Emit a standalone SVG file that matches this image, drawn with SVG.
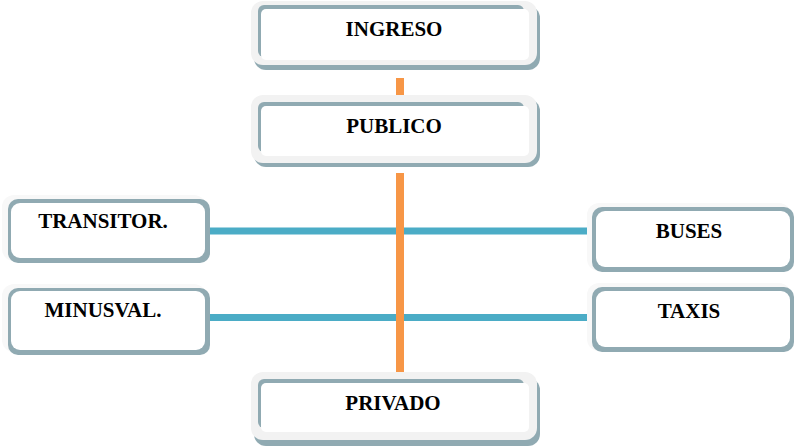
<svg xmlns="http://www.w3.org/2000/svg" width="794" height="447" viewBox="0 0 794 447">
  <style>
    .frame { fill: #f2f2f2; }
    .sframe { fill: #f8f8f8; }
    .shadow { fill: #90aab2; }
    .inner { fill: #ffffff; }
    .lbl { font-family: "Liberation Serif", "Times New Roman", serif; font-weight: bold; font-size: 21px; fill: #000000; text-anchor: middle; }
    .hline { stroke: #4bacc6; stroke-width: 7; fill: none; }
    .vline { stroke: #f79646; stroke-width: 8; fill: none; }
  </style>
  <rect width="794" height="447" fill="#ffffff"/>

  <g id="connectors">
    <line class="hline" x1="208" y1="231" x2="594" y2="231"/>
    <line class="hline" x1="208" y1="317.5" x2="594" y2="317.5"/>
    <line class="vline" x1="400" y1="78" x2="400" y2="97"/>
    <line class="vline" x1="400" y1="173" x2="400" y2="375"/>
  </g>

  <g id="node-ingreso">
    <rect class="shadow" x="254" y="6" width="286" height="64" rx="12"/>
    <rect class="frame" x="251" y="1" width="286" height="64" rx="12"/>
    <rect class="shadow" x="258" y="5" width="266" height="52" rx="6"/>
    <rect class="inner" x="261" y="9" width="268" height="51" rx="5"/>
    <text class="lbl" x="394" y="36">INGRESO</text>
  </g>

  <g id="node-publico">
    <rect class="shadow" x="254" y="99" width="286" height="68" rx="12"/>
    <rect class="frame" x="251" y="95" width="286" height="68" rx="12"/>
    <rect class="shadow" x="258" y="102" width="266" height="50" rx="6"/>
    <rect class="inner" x="261" y="106" width="268" height="50" rx="5"/>
    <text class="lbl" x="394" y="133">PUBLICO</text>
  </g>

  <g id="node-privado">
    <rect class="shadow" x="254" y="378" width="286" height="68" rx="12"/>
    <rect class="frame" x="251" y="372" width="286" height="68" rx="12"/>
    <rect class="shadow" x="258" y="379" width="266" height="49" rx="6"/>
    <rect class="inner" x="261" y="383" width="268" height="49" rx="5"/>
    <text class="lbl" x="393" y="410">PRIVADO</text>
  </g>

  <g id="node-transitor">
    <rect class="sframe" x="2" y="195" width="204" height="66" rx="12"/>
    <rect class="shadow" x="8" y="199" width="202" height="64" rx="10"/>
    <rect class="inner" x="11" y="203" width="194" height="55" rx="9"/>
    <text class="lbl" x="103" y="228">TRANSITOR.</text>
  </g>

  <g id="node-minusval">
    <rect class="sframe" x="2" y="284" width="204" height="68" rx="12"/>
    <rect class="shadow" x="8" y="288" width="202" height="67" rx="10"/>
    <rect class="inner" x="11" y="291" width="194" height="59" rx="9"/>
    <text class="lbl" x="103" y="317">MINUSVAL.</text>
  </g>

  <g id="node-buses">
    <rect class="sframe" x="587" y="203" width="204" height="68" rx="12"/>
    <rect class="shadow" x="592" y="207" width="202" height="65" rx="10"/>
    <rect class="inner" x="596" y="211" width="194" height="56" rx="9"/>
    <text class="lbl" x="689" y="238">BUSES</text>
  </g>

  <g id="node-taxis">
    <rect class="sframe" x="587" y="283" width="204" height="68" rx="12"/>
    <rect class="shadow" x="592" y="287" width="202" height="65" rx="10"/>
    <rect class="inner" x="596" y="291" width="194" height="56" rx="9"/>
    <text class="lbl" x="689" y="318">TAXIS</text>
  </g>
</svg>
